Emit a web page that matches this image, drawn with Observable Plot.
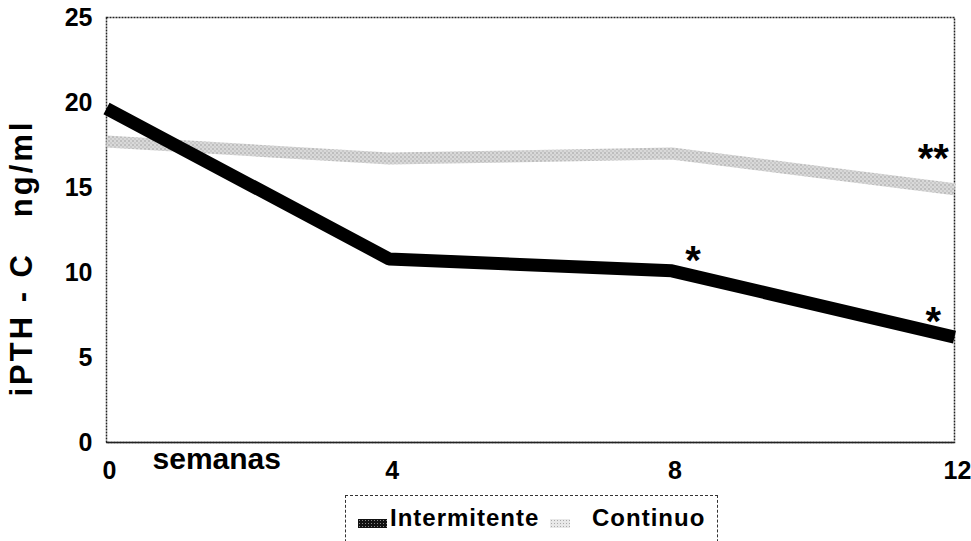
<!DOCTYPE html>
<html>
<head>
<meta charset="utf-8">
<script src="https://cdn.jsdelivr.net/npm/d3@7"></script>
<script src="https://cdn.jsdelivr.net/npm/@observablehq/plot@0.6"></script>
<style>
  body { margin: 0; background: #fff; font-family: "Liberation Sans", Arial, sans-serif; }
  #chart svg { display: block; }
  g[aria-description="ylabel"] text, g[font-size="31"] text { letter-spacing: 3px; }
  .legend { position: absolute; left: 345px; top: 495px; width: 373px; height: 62px;
            border: 1.5px dashed #333; box-sizing: border-box; font-weight: bold; font-size: 24px; }
  .legend span.t { position: absolute; top: 10px; line-height: 24px; letter-spacing: 1px; color: #000; }
  .legend span.sw { position: absolute; top: 23px; height: 9px; }
</style>
</head>
<body>
<div id="chart"></div>
<div class="legend" id="legend"></div>
<script>
// ---- data ----
const semanas = [0, 4, 8, 12];
const intermitente = [19.65, 10.8, 10.1, 6.2];
const continuo = [17.7, 16.7, 17.0, 14.9];
const seriesNames = ["Intermitente", "Continuo"];
const xTicks = [0, 4, 8, 12];
const yTicks = [0, 5, 10, 15, 20, 25];
const asteriscosX = [8.3, 11.7, 11.7];
const asteriscosY = [11.1, 17.06, 7.47];
const asteriscosTxt = ["*", "**", "*"];
const yLabel = "iPTH\u00a0-\u00a0C\u00a0\u00a0\u00a0ng/ml";
const xLabel = "semanas";

// ---- tables ----
const rows = [];
semanas.forEach((s, i) => {
  rows.push({serie: seriesNames[0], x: s, y: intermitente[i]});
  rows.push({serie: seriesNames[1], x: s, y: continuo[i]});
});
const notas = asteriscosX.map((x, i) => ({x, y: asteriscosY[i], t: asteriscosTxt[i]}));

const defs = () => {
  const d = d3.create("svg:defs");
  const p = d.append("pattern").attr("id", "stip").attr("width", 4).attr("height", 4)
    .attr("patternUnits", "userSpaceOnUse");
  p.append("rect").attr("width", 4).attr("height", 4).attr("fill", "#d9d9d9");
  p.append("rect").attr("x", 0).attr("y", 0).attr("width", 1).attr("height", 1).attr("fill", "#6e6e6e");
  p.append("rect").attr("x", 2).attr("y", 2).attr("width", 1).attr("height", 1).attr("fill", "#999");
  return d.node();
};

const chart = Plot.plot({
  width: 971,
  height: 485,
  marginLeft: 106,
  marginRight: 17,
  marginTop: 17,
  marginBottom: 43,
  style: {fontFamily: "'Liberation Sans', Arial, sans-serif", fontWeight: "bold", color: "#000", background: "#fff"},
  x: {domain: [0, 12]},
  y: {domain: [0, 25]},
  marks: [
    defs,
    Plot.frame({stroke: "#222", strokeWidth: 1.5, strokeDasharray: "2,1"}),
    Plot.ruleY([0], {stroke: "#222", strokeWidth: 1.5}),
    Plot.line(rows.filter(d => d.serie === seriesNames[1]), {x: "x", y: "y", stroke: "url(#stip)", strokeWidth: 12, strokeLinecap: "butt"}),
    Plot.line(rows.filter(d => d.serie === seriesNames[0]), {x: "x", y: "y", stroke: "#000", strokeWidth: 13, strokeLinecap: "butt", strokeLinejoin: "miter"}),
    Plot.axisX({ticks: xTicks, tickSize: 0, tickPadding: 19, fontSize: 25, dx: 3, label: null, tickFormat: d => String(d)}),
    Plot.axisY({ticks: yTicks, tickSize: 0, tickPadding: 14, fontSize: 25, label: null}),
    Plot.text(notas, {x: "x", y: "y", text: "t", fontSize: 40, dy: 7, fill: "#000"}),
    Plot.text([{x: -1.19, y: 10.85, t: yLabel}], {x: "x", y: "y", text: "t", rotate: -90, textAnchor: "middle", lineAnchor: "middle", fontSize: 31, ariaDescription: "ylabel", fill: "#000"}),
    Plot.text([{x: 1.56, t: xLabel}], {x: "x", text: "t", frameAnchor: "bottom", textAnchor: "middle", lineAnchor: "middle", dy: 17, fontSize: 30, fill: "#000"})
  ]
});
document.getElementById("chart").appendChild(chart);

// ---- legend ----
const lg = document.getElementById("legend");
lg.innerHTML =
  `<span class="sw" style="left:12px;width:29px;background:#111;background-image:radial-gradient(#888 0.6px, transparent 0.8px);background-size:3px 3px"></span>` +
  `<span class="t" style="left:44px">${seriesNames[0]}</span>` +
  `<span class="sw" style="left:204px;width:20px;background:#e8e8e8;background-image:radial-gradient(#aaa 0.6px, transparent 0.8px);background-size:3px 3px"></span>` +
  `<span class="t" style="left:246px">${seriesNames[1]}</span>`;
</script>
</body>
</html>
